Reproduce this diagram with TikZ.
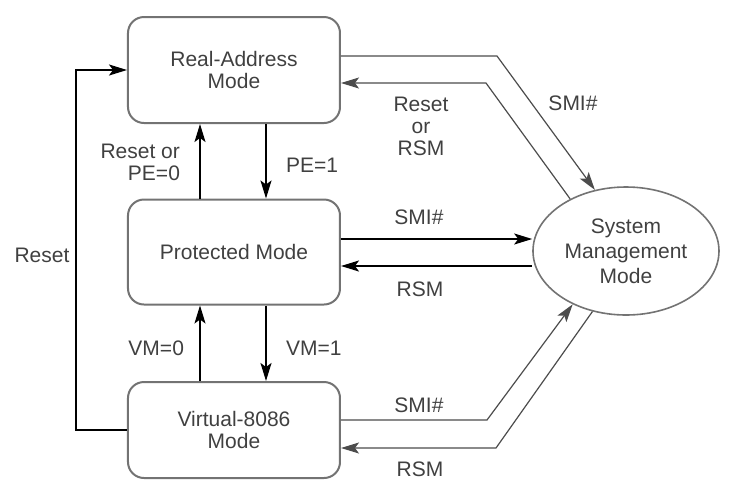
\documentclass[tikz,border=0pt]{standalone}
\usepackage{fontspec}
\setmainfont{Liberation Sans}
\usetikzlibrary{arrows.meta,shapes.geometric}
\begin{document}
\begin{tikzpicture}[x=0.5pt, y=-0.5pt, >={Stealth[length=9pt,width=5.5pt,inset=2pt]},
  every node/.style={font=\fontsize{10.5pt}{11pt}\selectfont, text=black!75, align=center},
  mode/.style={draw=black!55, line width=1pt, rounded corners=8pt, minimum width=106pt, inner sep=0pt},
  arr/.style={->, line width=0.9pt},
  thin arr/.style={->, line width=0.6pt, black!70}]
\useasboundingbox (0,0) rectangle (736,484);
\node[mode, minimum height=53pt] (real) at (234,70) {Real-Address\\Mode};
\node[mode, minimum height=52.5pt] (prot) at (234,252) {Protected Mode};
\node[mode, minimum height=48pt] (virt) at (234,430) {Virtual-8086\\Mode};
\node[ellipse, draw=black!55, line width=0.8pt, minimum width=93pt, minimum height=64pt, inner sep=0pt,
  font=\fontsize{10.5pt}{12.5pt}\selectfont] (smm) at (626,251) {System\\Management\\Mode};
% between the modes
\draw[arr]([xshift=16pt]real.south)--([xshift=16pt]prot.north);
\draw[arr]([xshift=-17pt]prot.north)--([xshift=-17pt]real.south);
\draw[arr]([xshift=16pt]prot.south)--([xshift=16pt]virt.north);
\draw[arr]([xshift=-17pt]virt.north)--([xshift=-17pt]prot.south);
\node[anchor=east, align=right] (lpe0) at (187,162) {Reset or\\PE=0};
\node[anchor=west] (lpe1) at (279,165) {PE=1};
\node[anchor=east] (lvm0) at (191,348) {VM=0};
\node[anchor=west] (lvm1) at (279,348) {VM=1};
\draw[arr](virt.west)--++(-51,0)|-(real.west);
\node (lreset) at (42,255) {Reset};
% to and from SMM
\draw[thin arr]([yshift=7pt]real.east)--++(156,0)--(smm.117);
\draw[thin arr](smm.137)--(486,83)--([yshift=-6.5pt]real.east);
\node (lrsm1) at (421,126) {Reset\\or\\RSM};
\node (lsmi1) at (573,103) {SMI\#};
\draw[arr]([yshift=6.5pt]prot.east)--([yshift=6.5pt]prot.east-|smm.west);
\draw[arr]([yshift=-7pt]prot.east-|smm.west)--([yshift=-7pt]prot.east);
\node (lsmi2) at (419,217) {SMI\#};
\node (lrsm2) at (420,289) {RSM};
\draw[thin arr]([yshift=5pt]virt.east)--++(146,0)--(smm.225);
\draw[thin arr](smm.241)--(496,448)--([yshift=-9pt]virt.east);
\node (lsmi3) at (419,405) {SMI\#};
\node (lrsm3) at (420,469) {RSM};
\end{tikzpicture}
\end{document}
